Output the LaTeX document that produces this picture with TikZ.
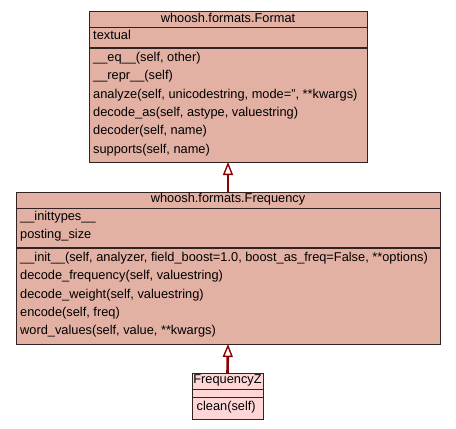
\documentclass[tikz,border=0pt]{standalone}
\usepackage{fontspec}
\setmainfont{Liberation Sans}
\usetikzlibrary{arrows.meta}
\definecolor{boxfill}{RGB}{226,177,164}
\definecolor{lightfill}{RGB}{255,214,214}
\definecolor{boxline}{RGB}{50,35,35}
\definecolor{arrowred}{RGB}{140,0,0}
\tikzset{
  classbox/.style={draw=boxline, line width=1pt, fill=boxfill, anchor=north west, inner sep=0pt, outer sep=0pt},
  lightbox/.style={classbox, fill=lightfill},
  sepline/.style={draw=boxline, line width=1pt},
  thicksep/.style={draw=boxline, line width=1.6pt},
  member/.style={anchor=west, inner sep=0pt, font=\fontsize{12.8}{14}\selectfont},
  title/.style={anchor=center, inner sep=0pt, font=\fontsize{12.8}{14}\selectfont},
  inherit/.style={draw=arrowred, line width=2.6pt, -{Triangle[open, length=13pt, width=10pt, line width=1.4pt]}}
}
\begin{document}
\begin{tikzpicture}[x=1pt, y=-1pt]
\useasboundingbox (0,0) rectangle (456,429);
% Format
\node[classbox, minimum width=278pt, minimum height=151pt] (format) at (89,11) {};
\draw[sepline] (89,27) -- (367,27);
\draw[thicksep] (89,48) -- (367,48);
\node[title] (ft) at (228,18) {whoosh.formats.Format};
\node[member] (fa1) at (93,35) {textual};
\node[member] (fm1) at (93,58) {\_\_eq\_\_(self, other)};
\node[member] (fm2) at (93,76.5) {\_\_repr\_\_(self)};
\node[member] (fm3) at (93,95) {analyze(self, unicodestring, mode=", **kwargs)};
\node[member] (fm4) at (93,113) {decode\_as(self, astype, valuestring)};
\node[member] (fm5) at (93,131.5) {decoder(self, name)};
\node[member] (fm6) at (93,150) {supports(self, name)};
% Frequency
\node[classbox, minimum width=424pt, minimum height=152pt] (freq) at (16,192) {};
\draw[sepline] (16,208) -- (440,208);
\draw[thicksep] (16,248) -- (440,248);
\node[title] (qt) at (228,199) {whoosh.formats.Frequency};
\node[member] (qa1) at (20,217.5) {\_\_inittypes\_\_};
\node[member] (qa2) at (20,235.5) {posting\_size};
\node[member] (qm1) at (20,258) {\_\_init\_\_(self, analyzer, field\_boost=1.0, boost\_as\_freq=False, **options)};
\node[member] (qm2) at (20,276.5) {decode\_frequency(self, valuestring)};
\node[member] (qm3) at (20,295) {decode\_weight(self, valuestring)};
\node[member] (qm4) at (20,313) {encode(self, freq)};
\node[member] (qm5) at (20,331.5) {word\_values(self, value, **kwargs)};
% FrequencyZ
\node[lightbox, minimum width=71pt, minimum height=46pt] (freqz) at (192,373) {};
\draw[sepline] (192,389) -- (263,389);
\draw[sepline] (192,397) -- (263,397);
\node[title] (zt) at (227.5,380.5) {FrequencyZ};
\node[member] (zm1) at (196.5,407.5) {clean(self)};
% inheritance
\draw[inherit] (freq.north) -- (format.south);
\draw[inherit] (freqz.north) -- (freq.south);
\end{tikzpicture}
\end{document}
